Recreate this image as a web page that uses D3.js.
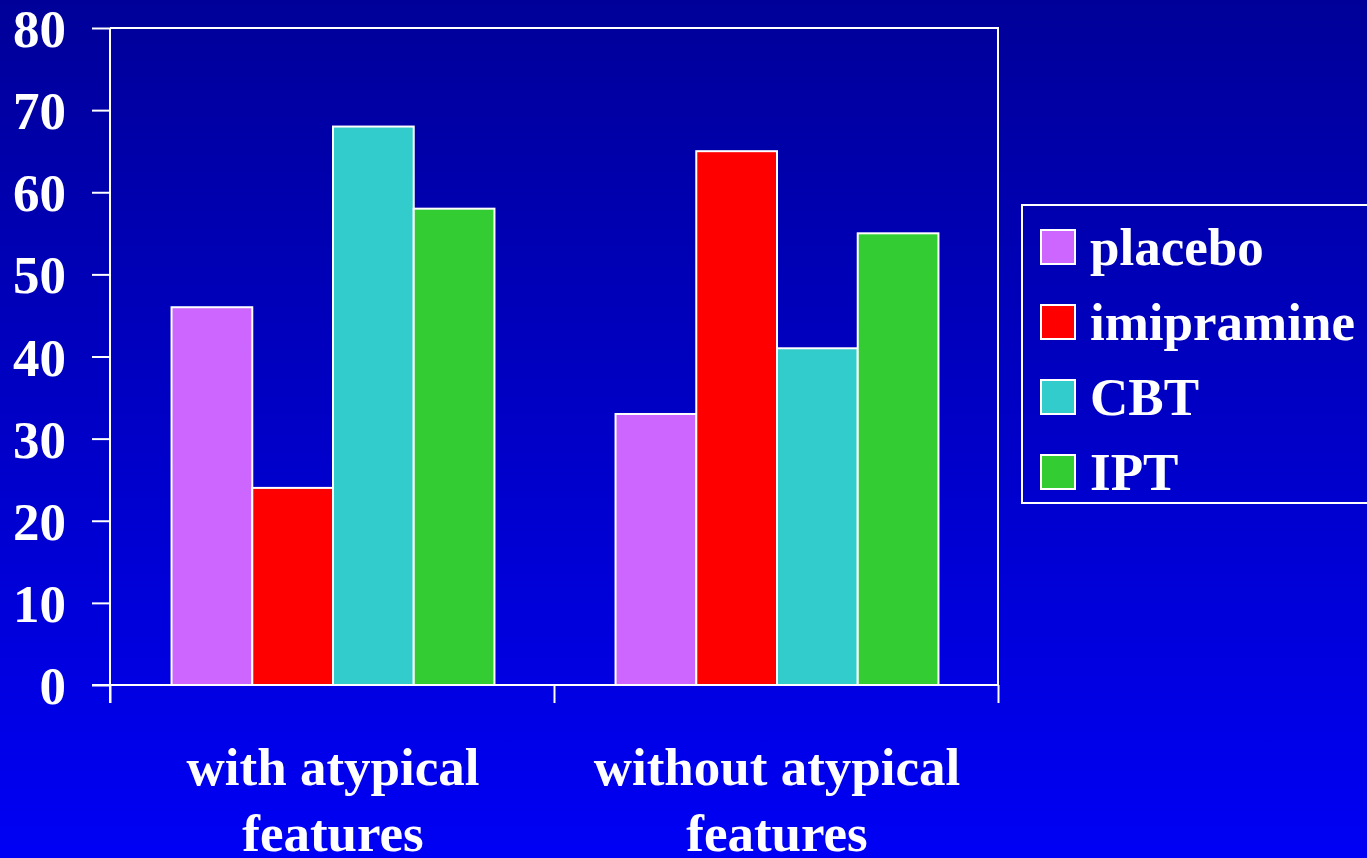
<!DOCTYPE html>
<html>
<head>
<meta charset="utf-8">
<script src="https://cdn.jsdelivr.net/npm/d3@7"></script>
<style>
  html, body { margin: 0; padding: 0; overflow: hidden; }
  svg { display: block; }
  text { font-family: "Liberation Serif", "Times New Roman", serif; font-weight: bold; fill: #fff; }
</style>
</head>
<body>
<svg id="chart" width="1367" height="858"></svg>
<script>
// Response rates (%) by treatment, split by atypical features
const groups = [["with atypical", "features"], ["without atypical", "features"]];
const groupKeys = ["with", "without"];
const series = ["placebo", "imipramine", "CBT", "IPT"];
const colors = ["#CC66FF", "#FF0000", "#33CCCC", "#33CC33"];
const withAtypical = [46, 24, 68, 58];
const withoutAtypical = [33, 65, 41, 55];
const yTicks = [0, 10, 20, 30, 40, 50, 60, 70, 80];

const values = [withAtypical, withoutAtypical];

const W = 1367, H = 858;
const svg = d3.select("#chart");

// Vertical blue gradient background
const defs = svg.append("defs");
const grad = defs.append("linearGradient").attr("id", "bg")
  .attr("x1", 0).attr("y1", 0).attr("x2", 0).attr("y2", 1);
grad.append("stop").attr("offset", "0%").attr("stop-color", "#000099");
grad.append("stop").attr("offset", "100%").attr("stop-color", "#0000F5");
svg.append("rect").attr("width", W).attr("height", H).attr("fill", "url(#bg)");

const plot = { left: 110, right: 998, top: 28, bottom: 685 };

const y = d3.scaleLinear().domain([0, 80]).range([plot.bottom, plot.top]);
const x0 = d3.scaleBand().domain(groupKeys).range([plot.left, plot.right]).padding(0);
const x1 = d3.scaleBand().domain(series).range([0, x0.bandwidth()])
  .paddingInner(0).paddingOuter(0.75);

// Bars
groupKeys.forEach((g, gi) => {
  svg.append("g")
    .selectAll("rect")
    .data(series.map((s, si) => ({ s, si, v: values[gi][si] })))
    .join("rect")
    .attr("x", d => x0(g) + x1(d.s) + 1)
    .attr("y", d => y(d.v))
    .attr("width", x1.bandwidth())
    .attr("height", d => y(0) - y(d.v))
    .attr("fill", d => colors[d.si])
    .attr("stroke", "#fff")
    .attr("stroke-width", 2);
});

// Plot frame (top and right edges)
svg.append("path")
  .attr("d", `M${plot.left},${plot.top}H${plot.right}V${plot.bottom}`)
  .attr("fill", "none").attr("stroke", "#fff").attr("stroke-width", 2);

// Y axis
const yAxis = svg.append("g")
  .attr("transform", `translate(${plot.left},0)`)
  .call(d3.axisLeft(y).tickValues(yTicks).tickSize(18).tickPadding(0).tickFormat(d3.format("d")));
yAxis.select(".domain").attr("stroke", "#fff").attr("stroke-width", 2)
  .attr("d", `M0,${plot.top}V${plot.bottom + 18}`);
yAxis.selectAll(".tick line").attr("stroke", "#fff").attr("stroke-width", 2);
yAxis.selectAll(".tick text")
  .attr("x", -44)
  .attr("dy", "0.35em")
  .style("font-size", "53px")
  .style("font-family", "'Liberation Serif', 'Times New Roman', serif")
  .style("font-weight", "bold")
  .attr("fill", "#fff");

// X axis
const xAxisScale = d3.scaleLinear().domain([0, 2]).range([plot.left, plot.right]);
const xAxis = svg.append("g")
  .attr("transform", `translate(0,${plot.bottom})`)
  .call(d3.axisBottom(xAxisScale).tickValues([0, 1, 2]).tickSize(18).tickFormat(""));
xAxis.select(".domain").attr("stroke", "#fff").attr("stroke-width", 2)
  .attr("d", `M${plot.left - 18},0H${plot.right}`);
xAxis.selectAll(".tick line").attr("stroke", "#fff").attr("stroke-width", 2);

// Category labels (two lines each)
groupKeys.forEach((g, gi) => {
  const cx = x0(g) + x0.bandwidth() / 2 + 1;
  const t = svg.append("text")
    .attr("text-anchor", "middle")
    .style("font-size", "53px");
  groups[gi].forEach((line, li) => {
    t.append("tspan").attr("x", cx).attr("y", 785 + li * 66).text(line);
  });
});

// Legend
const legend = svg.append("g");
legend.append("rect")
  .attr("x", 1022).attr("y", 205).attr("width", 400).attr("height", 298)
  .attr("fill", "none").attr("stroke", "#fff").attr("stroke-width", 2);
series.forEach((s, i) => {
  const yy = 230 + i * 75;
  legend.append("rect")
    .attr("x", 1041).attr("y", yy).attr("width", 34).attr("height", 34)
    .attr("fill", colors[i]).attr("stroke", "#fff").attr("stroke-width", 2);
  legend.append("text")
    .attr("x", 1090).attr("y", yy + 35)
    .style("font-size", "53px")
    .text(s);
});
</script>
</body>
</html>
